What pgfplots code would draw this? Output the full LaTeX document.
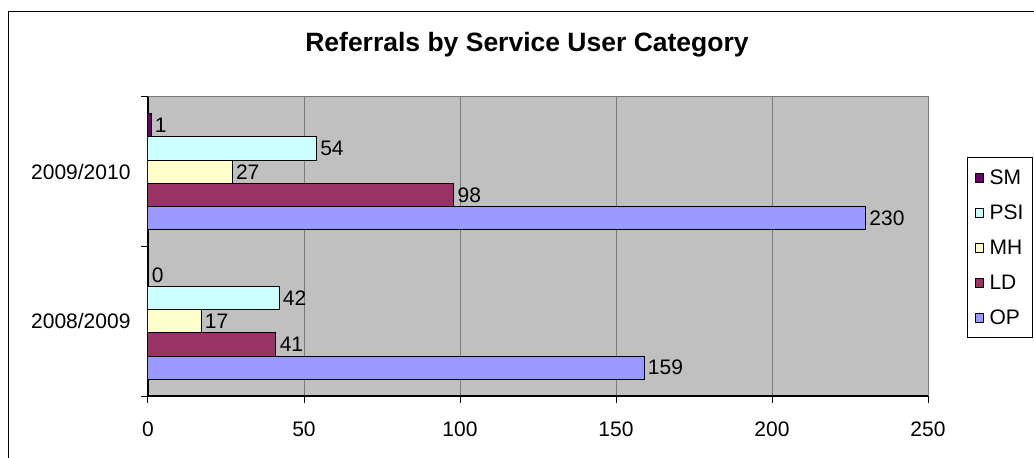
\documentclass[border=0pt]{standalone}
\usepackage{pgfplots}
\pgfplotsset{compat=1.18}
\usepackage{fontspec}
\setmainfont{Liberation Sans}
\definecolor{cOP}{HTML}{9999FF}
\definecolor{cLD}{HTML}{993366}
\definecolor{cMH}{HTML}{FFFFCC}
\definecolor{cPSI}{HTML}{CCFFFF}
\definecolor{cSM}{HTML}{660066}
\definecolor{cBG}{HTML}{C0C0C0}
\definecolor{cGrid}{HTML}{7A7A7A}
\begin{document}
\begin{tikzpicture}[x=1pt,y=1pt]
\useasboundingbox (0,0) rectangle (1034,458);
\fill[white] (0,0) rectangle (1034,458);
\draw[line width=1.8pt] (8.5,-5) -- (8.5,446.5) -- (1040,446.5);
\node[font=\fontsize{26.5}{30}\selectfont\bfseries] at (527,413) {Referrals by Service User Category};
\begin{axis}[
  at={(148pt,62pt)}, anchor=south west,
  scale only axis, width=780pt, height=299pt,
  xbar, bar width=0.155,
  xmin=0, xmax=250, ymin=-0.5, ymax=1.5,
  xtick={0,50,...,250},
  ytick={-0.5,0.5,1.5}, yticklabels={},
  extra y ticks={0,1}, extra y tick labels={2008/2009,2009/2010},
  extra y tick style={major tick length=0pt, yticklabel style={xshift=-14pt}},
  xticklabel style={yshift=-15pt},
  axis lines=left, axis line style={-, line width=1.3pt, black},
  axis background/.style={fill=cBG, draw=cGrid, line width=1pt},
  tick align=outside, major tick length=7pt,
  tick style={black, line width=1pt},
  xmajorgrids, grid style={cGrid, line width=1pt},
  ticklabel style={font=\fontsize{21}{25}\selectfont},
  /pgf/number format/assume math mode=true,
  nodes near coords, nodes near coords style={font=\fontsize{21}{25}\selectfont, black},
  every axis plot/.append style={draw=black, line width=1pt},
  legend image code/.code={\draw[#1, line width=1pt] (0pt,-4.5pt) rectangle (8pt,4.5pt);},
  legend style={at={(1.05,0.799)}, anchor=north west, draw=black, line width=1pt,
    font=\fontsize{21}{25}\selectfont, row sep=15pt, column sep=4pt, inner xsep=7pt, inner ysep=10pt},
  legend cell align=left,
  reverse legend,
]
\addplot[fill=cOP, bar shift=-0.31] coordinates {(159,0) (230,1)};
\addplot[fill=cLD, bar shift=-0.155] coordinates {(41,0) (98,1)};
\addplot[fill=cMH, bar shift=0] coordinates {(17,0) (27,1)};
\addplot[fill=cPSI, bar shift=0.155] coordinates {(42,0) (54,1)};
\addplot[fill=cSM, bar shift=0.31] coordinates {(0,0) (1,1)};
\legend{OP,LD,MH,PSI,SM}
\end{axis}
\end{tikzpicture}
\end{document}
